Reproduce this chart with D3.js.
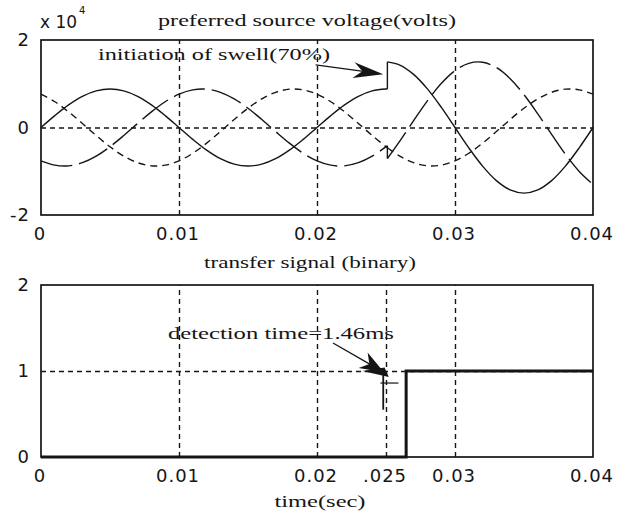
<!DOCTYPE html>
<html>
<head>
<meta charset="utf-8">
<script src="https://cdn.jsdelivr.net/npm/d3@7"></script>
<style>
  html, body { margin: 0; padding: 0; background: #fff; }
  svg { display: block; }
</style>
</head>
<body>
<svg id="chart" width="624" height="519"></svg>
<script>
// Sample times (ms). The swell begins at 25.1 ms, so each phase is split there.
const timeMs      = [0,1,2,3,4,5,6,7,8,9,10,11,12,13,14,15,16,17,18,19,20,21,22,23,24,25,25.1];
const timeSwellMs = [25.1,26,27,28,29,30,31,32,33,34,35,36,37,38,39,40];

// Preferred source phase voltages, in units of 10^4 V
const phaseA      = [0,0.272,0.517,0.712,0.837,0.88,0.837,0.712,0.517,0.272,0,-0.272,-0.517,-0.712,-0.837,-0.88,-0.837,-0.712,-0.517,-0.272,0,0.272,0.517,0.712,0.837,0.88,0.88];
const phaseASwell = [1.5,1.427,1.214,0.882,0.464,0,-0.464,-0.882,-1.214,-1.427,-1.5,-1.427,-1.214,-0.882,-0.464,0];

const phaseB      = [-0.762,-0.861,-0.876,-0.804,-0.654,-0.44,-0.183,0.092,0.358,0.589,0.762,0.861,0.876,0.804,0.654,0.44,0.183,-0.092,-0.358,-0.589,-0.762,-0.861,-0.876,-0.804,-0.654,-0.44,-0.416];
const phaseBSwell = [-0.709,-0.312,0.157,0.61,1.004,1.299,1.467,1.492,1.37,1.115,0.75,0.312,-0.157,-0.61,-1.004,-1.299];

const phaseC      = [0.762,0.589,0.358,0.092,-0.183,-0.44,-0.654,-0.804,-0.876,-0.861,-0.762,-0.589,-0.358,-0.092,0.183,0.44,0.654,0.804,0.876,0.861,0.762,0.589,0.358,0.092,-0.183,-0.44,-0.464];
const phaseCSwell = [-0.464,-0.654,-0.804,-0.876,-0.861,-0.762,-0.589,-0.358,-0.092,0.183,0.44,0.654,0.804,0.876,0.861,0.762];

// Transfer signal: switches to 1 after the detection delay
const swellRefMs = 25;
const detectionDelayMs = 1.46;
const transferState = [0, 0, 1, 1];

// Axis ticks
const topXTicks = [0, 0.01, 0.02, 0.03, 0.04];
const topXLabels = ["0", "0.01", "0.02", "0.03", "0.04"];
const botXTicks = [0, 0.01, 0.02, 0.025, 0.03, 0.04];
const botXLabels = ["0", "0.01", "0.02", ".025", "0.03", "0.04"];
const topYTicks = [-2, 0, 2];
const botYTicks = [0, 1, 2];

const svg = d3.select("#chart");
const INK = "#151515";
const SERIF = "'Liberation Serif', 'Times New Roman', serif";
const SANS = "'DejaVu Sans', 'Liberation Sans', sans-serif";

const x = d3.scaleLinear().domain([0, 0.04]).range([41, 593]);
const yTop = d3.scaleLinear().domain([-2, 2]).range([215, 40]);
const yBot = d3.scaleLinear().domain([0, 2]).range([457, 285]);
const plotW = x.range()[1] - x.range()[0];

function styleGrid(g) {
  g.select(".domain").remove();
  g.selectAll("text").remove();
  g.selectAll("line")
    .attr("stroke", INK).attr("stroke-width", 1.4)
    .attr("stroke-dasharray", "5,4");
}
function styleLabels(g, dx) {
  g.select(".domain").remove();
  g.selectAll("line").remove();
  g.selectAll("text")
    .attr("font-family", SANS).attr("font-size", 18)
    .attr("letter-spacing", 1).attr("fill", INK)
    .attr("dx", dx);
}

function panel(yScale, xTicks, xLabels, yTicks, xGrid, yGrid) {
  const [yb, yt] = yScale.range();
  const g = svg.append("g");
  // grid
  g.append("g").attr("transform", `translate(0,${yb})`)
    .call(d3.axisBottom(x).tickValues(xGrid).tickSize(-(yb - yt)).tickFormat(""))
    .call(styleGrid);
  g.append("g").attr("transform", `translate(${x.range()[0]},0)`)
    .call(d3.axisLeft(yScale).tickValues(yGrid).tickSize(-plotW).tickFormat(""))
    .call(styleGrid);
  // tick labels
  g.append("g").attr("transform", `translate(0,${yb})`)
    .call(d3.axisBottom(x).tickValues(xTicks).tickSize(0).tickPadding(12)
      .tickFormat((d, i) => xLabels[i]))
    .call(gg => styleLabels(gg, -1.5));
  g.append("g").attr("transform", `translate(${x.range()[0]},0)`)
    .call(d3.axisLeft(yScale).tickValues(yTicks).tickSize(0).tickPadding(11)
      .tickFormat(d => String(d)))
    .call(gg => styleLabels(gg, 0));
  // frame
  g.append("rect")
    .attr("x", x.range()[0]).attr("y", yt)
    .attr("width", plotW).attr("height", yb - yt)
    .attr("fill", "none").attr("stroke", INK).attr("stroke-width", 1.7);
  return g;
}

const topPanel = panel(yTop, topXTicks, topXLabels, topYTicks, [0.01, 0.02, 0.03], [0]);
const botPanel = panel(yBot, botXTicks, botXLabels, botYTicks, [0.01, 0.02, 0.025, 0.03], [1]);

// Phase waveforms
const wave = d3.line()
  .x(d => x(d.t / 1000)).y(d => yTop(d.v))
  .curve(d3.curveCatmullRom.alpha(0.5));
const phases = [
  { pre: phaseA, post: phaseASwell, dash: null },
  { pre: phaseB, post: phaseBSwell, dash: "32,7" },
  { pre: phaseC, post: phaseCSwell, dash: "7,5" }
];
const waveG = topPanel.append("g").attr("fill", "none").attr("stroke", INK)
  .attr("stroke-width", 1.4);
phases.forEach(p => {
  const a = timeMs.map((t, i) => ({ t, v: p.pre[i] }));
  const b = timeSwellMs.map((t, i) => ({ t, v: p.post[i] }));
  [a, b].forEach(seg => waveG.append("path").attr("d", wave(seg))
    .attr("stroke-dasharray", p.dash));
  waveG.append("line")
    .attr("x1", x(a[a.length - 1].t / 1000)).attr("y1", yTop(a[a.length - 1].v))
    .attr("x2", x(b[0].t / 1000)).attr("y2", yTop(b[0].v));
});

// Transfer signal step
const stepT = (swellRefMs + detectionDelayMs) / 1000;
const transferTime = [0, stepT, stepT, 0.04];
botPanel.append("path")
  .attr("d", d3.line().x((d, i) => x(transferTime[i])).y(d => yBot(d))(transferState))
  .attr("fill", "none").attr("stroke", INK).attr("stroke-width", 3);

// Arrow helper (pixel coordinates)
function arrow(g, x1, y1, x2, y2, len, half) {
  const a = Math.atan2(y2 - y1, x2 - x1);
  const c = Math.cos(a), s = Math.sin(a);
  g.append("line").attr("x1", x1).attr("y1", y1)
    .attr("x2", x2 - len * 0.6 * c).attr("y2", y2 - len * 0.6 * s)
    .attr("stroke", INK).attr("stroke-width", 1.3);
  const bx = x2 - len * c, by = y2 - len * s;
  const nx = x2 - len * 0.7 * c, ny = y2 - len * 0.7 * s;
  g.append("polygon")
    .attr("points", [
      [x2, y2], [bx - s * half, by + c * half], [nx, ny], [bx + s * half, by - c * half]
    ].map(p => p.join(",")).join(" "))
    .attr("fill", INK);
}

// Swell annotation
topPanel.append("text")
  .attr("x", x(0.00413)).attr("y", yTop(1.543))
  .attr("font-family", SERIF).attr("font-size", 16).attr("fill", INK)
  .attr("textLength", 232).attr("lengthAdjust", "spacingAndGlyphs")
  .text("initiation of swell(70%)");
arrow(topPanel, x(0.0199), yTop(1.43), x(0.0248), yTop(1.22), 30, 8);

// Detection annotation
botPanel.append("text")
  .attr("x", x(0.0092)).attr("y", yBot(1.372))
  .attr("font-family", SERIF).attr("font-size", 16).attr("fill", INK)
  .attr("textLength", 226).attr("lengthAdjust", "spacingAndGlyphs")
  .text(`detection time=${detectionDelayMs}ms`);
arrow(botPanel, x(0.02116), yBot(1.326), x(0.02485), yBot(0.985), 24, 9);
// smudged strokes around the arrow tip
botPanel.append("polygon")
  .attr("points", [
    [x(0.0233), yBot(1.0)], [x(0.0249), yBot(1.04)], [x(0.0252), yBot(0.93)]
  ].map(p => p.join(",")).join(" "))
  .attr("fill", INK);
botPanel.append("line")
  .attr("x1", x(0.0248)).attr("y1", yBot(0.99))
  .attr("x2", x(0.0248)).attr("y2", yBot(0.55))
  .attr("stroke", INK).attr("stroke-width", 1.8);
botPanel.append("line")
  .attr("x1", x(0.0246)).attr("y1", yBot(0.86))
  .attr("x2", x(0.0259)).attr("y2", yBot(0.86))
  .attr("stroke", INK).attr("stroke-width", 1.2);

// Titles and axis captions
function caption(cx, y, len, str, size) {
  svg.append("text").attr("x", cx).attr("y", y)
    .attr("text-anchor", "middle")
    .attr("font-family", SERIF).attr("font-size", size || 16).attr("fill", INK)
    .attr("textLength", len).attr("lengthAdjust", "spacingAndGlyphs")
    .text(str);
}
caption(307, 26, 298, "preferred source voltage(volts)");
caption(310, 268, 212, "transfer signal (binary)");
caption(320, 507, 91, "time(sec)");

// Exponent label
const expo = svg.append("text").attr("x", 40).attr("y", 28)
  .attr("font-family", SANS).attr("font-size", 17).attr("fill", INK);
expo.append("tspan").text("x 10");
expo.append("tspan").attr("font-size", 10).attr("dy", -14).attr("dx", 2).text("4");
</script>
</body>
</html>
